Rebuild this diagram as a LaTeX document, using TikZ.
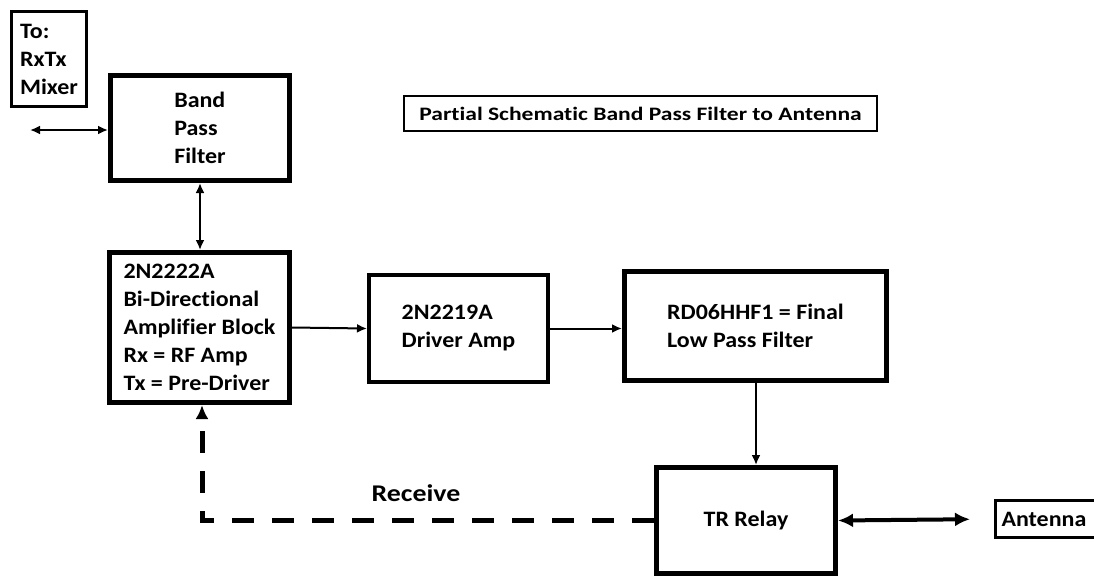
\documentclass[tikz,border=0pt]{standalone}
\usepackage{fontspec}
\setmainfont[Ligatures=NoCommon]{Carlito}
\newfontfamily\blockfont[FakeStretch=1.09, Ligatures=NoCommon]{Carlito}
\newfontfamily\titlefont[FakeStretch=1.24, Ligatures=NoCommon]{Carlito}
\newfontfamily\rxfont[FakeStretch=1.16, Ligatures=NoCommon]{Carlito}
\usetikzlibrary{arrows.meta}
\begin{document}
\begin{tikzpicture}[
  x=1pt, y=-1pt,
  every node/.style={
    font=\blockfont\bfseries\fontsize{22}{28}\selectfont,
    align=left,
    inner sep=0pt
  },
  block/.style={draw, line width=5pt},
  thinbox/.style={draw, line width=3pt},
  arrow/.style={-{Latex[length=10pt,width=9pt]}, line width=2pt},
  twoway/.style={{Latex[length=10pt,width=9pt]}-{Latex[length=10pt,width=9pt]}, line width=2pt},
  bigtwoway/.style={{Latex[length=15pt,width=14pt]}-{Latex[length=15pt,width=14pt]}, line width=4pt},
  receive/.style={-{Latex[length=14pt,width=13pt]}, line width=5pt, dash pattern=on 22pt off 18pt}
]
\useasboundingbox (0,0) rectangle (1094,579);
\clip (0,0) rectangle (1094,579);

\node (mixer) [thinbox, minimum width=75, minimum height=95] at (49,59) {To:\\RxTx\\Mixer};
\node (bpf) [block, minimum width=179, minimum height=105] at (200,128) {Band\\Pass\\Filter};
\node (bidir) [block, minimum width=180, minimum height=150] at (199.5,327.5) {2N2222A\\Bi-Directional\\Amplifier Block\\Rx = RF Amp\\Tx = Pre-Driver};
\node (driver) [draw, line width=4pt, minimum width=179, minimum height=107] at (458.5,328.5) {2N2219A\\Driver Amp};
\node (final) [block, minimum width=262, minimum height=109] at (755.5,326) {RD06HHF1 = Final\\Low Pass Filter};
\node (relay) [block, minimum width=179, minimum height=106] at (746,520.5) {TR Relay};
\node (antenna) [thinbox, minimum width=115, minimum height=37, text width=103] at (1053,519) {Antenna};
\node (title) [draw, line width=2pt, minimum width=473, minimum height=35,
  font=\titlefont\bfseries\fontsize{19}{22}\selectfont] at (640.5,113.5) {Partial Schematic Band Pass Filter to Antenna};
\node (rxlabel) [font=\rxfont\bfseries\fontsize{24}{28}\selectfont] at (416,493) {Receive};

\coordinate (mixend) at (30,130);

\draw[twoway] (mixend) -- (bpf.west |- mixend);
\draw[twoway] (bpf.south) -- (bpf.south |- bidir.north);
\draw[arrow] (bidir.east) -- (driver.west);
\draw[arrow] (driver.east) -- (final.west |- driver.east);
\draw[arrow] ([xshift=0.5pt]final.south) -- ([xshift=0.5pt]final.south |- relay.north);
\draw[bigtwoway, shorten >=24pt] (relay.east) -- (antenna.west);
\draw[receive] (relay.west) -| ([xshift=2.5pt]bidir.south);
\end{tikzpicture}
\end{document}
